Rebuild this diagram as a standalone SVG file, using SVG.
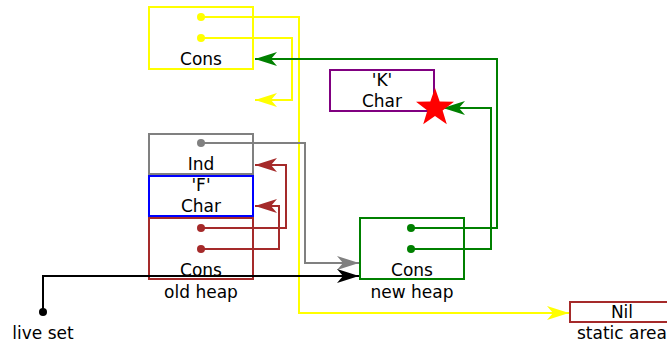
<svg xmlns="http://www.w3.org/2000/svg" width="667" height="345" viewBox="0 0 667 345">
  <style>
    text { font-family: "DejaVu Sans", sans-serif; font-size: 17px; fill: #000; text-anchor: middle; }
    .box { fill: none; stroke-width: 2; }
    .wire { fill: none; stroke-width: 2; }
  </style>
  <defs>
    <marker id="ah-yellow" markerUnits="userSpaceOnUse" markerWidth="24" markerHeight="16" viewBox="-23 -8 24 16" refX="0" refY="0" orient="auto">
      <path d="M0,0 L-22,-7 L-16,0 L-22,7 z" fill="#ffff00"/>
    </marker>
    <marker id="ah-green" markerUnits="userSpaceOnUse" markerWidth="24" markerHeight="16" viewBox="-23 -8 24 16" refX="0" refY="0" orient="auto">
      <path d="M0,0 L-22,-7 L-16,0 L-22,7 z" fill="#008000"/>
    </marker>
    <marker id="ah-red" markerUnits="userSpaceOnUse" markerWidth="24" markerHeight="16" viewBox="-23 -8 24 16" refX="0" refY="0" orient="auto">
      <path d="M0,0 L-22,-7 L-16,0 L-22,7 z" fill="#a52a2a"/>
    </marker>
    <marker id="ah-gray" markerUnits="userSpaceOnUse" markerWidth="24" markerHeight="16" viewBox="-23 -8 24 16" refX="0" refY="0" orient="auto">
      <path d="M0,0 L-22,-7 L-16,0 L-22,7 z" fill="#808080"/>
    </marker>
    <marker id="ah-black" markerUnits="userSpaceOnUse" markerWidth="24" markerHeight="16" viewBox="-23 -8 24 16" refX="0" refY="0" orient="auto">
      <path d="M0,0 L-22,-7 L-16,0 L-22,7 z" fill="#000"/>
    </marker>
  </defs>

  <!-- old heap: Cons cell (yellow) -->
  <g id="cons-yellow">
    <rect class="box" x="149" y="7" width="104" height="62" stroke="#ffff00"/>
    <text x="201" y="65">Cons</text>
  </g>

  <!-- old heap: Ind -->
  <g id="ind">
    <rect class="box" x="149" y="134" width="104" height="40" stroke="#808080"/>
    <text x="201" y="170">Ind</text>
  </g>

  <!-- old heap: 'F' Char -->
  <g id="char-f">
    <rect class="box" x="149" y="176" width="104" height="40" stroke="#0000ff"/>
    <text x="201" y="191">'F'</text>
    <text x="201" y="212">Char</text>
  </g>

  <!-- old heap: Cons cell (red) -->
  <g id="cons-red">
    <rect class="box" x="149" y="218" width="104" height="61" stroke="#a52a2a"/>
    <text x="201" y="276">Cons</text>
    <text x="201" y="298">old heap</text>
  </g>

  <!-- 'K' Char -->
  <g id="char-k">
    <rect class="box" x="330" y="70" width="104" height="41" stroke="#800080"/>
    <text x="382" y="86">'K'</text>
    <text x="382" y="107">Char</text>
  </g>

  <!-- new heap: Cons cell (green) -->
  <g id="cons-green">
    <rect class="box" x="360" y="218" width="104" height="61" stroke="#008000"/>
    <text x="412" y="276">Cons</text>
    <text x="412" y="298">new heap</text>
  </g>

  <!-- static area: Nil -->
  <g id="nil">
    <rect class="box" x="570" y="302" width="104" height="20" stroke="#a52a2a"/>
    <text x="622" y="318">Nil</text>
    <text x="622" y="339">static area</text>
  </g>

  <!-- root -->
  <g id="live-set">
    <circle cx="43" cy="312" r="4" fill="#000"/>
    <text x="43" y="339">live set</text>
  </g>

  <!-- pointers -->
  <g id="connectors">
    <!-- yellow Cons fields -->
    <path class="wire" d="M201,17 H299 V313 H569" stroke="#ffff00" marker-end="url(#ah-yellow)"/>
    <path class="wire" d="M201,38 H292 V100 H255" stroke="#ffff00" marker-end="url(#ah-yellow)"/>
    <circle cx="201" cy="17" r="4" fill="#ffff00"/>
    <circle cx="201" cy="38" r="4" fill="#ffff00"/>

    <!-- Ind forwarding -->
    <path class="wire" d="M201,143 H305 V263 H359" stroke="#808080" marker-end="url(#ah-gray)"/>
    <circle cx="201" cy="143" r="4" fill="#808080"/>

    <!-- red Cons fields -->
    <path class="wire" d="M201,228 H286 V165 H255" stroke="#a52a2a" marker-end="url(#ah-red)"/>
    <path class="wire" d="M201,249 H279 V206 H255" stroke="#a52a2a" marker-end="url(#ah-red)"/>
    <circle cx="201" cy="228" r="4" fill="#a52a2a"/>
    <circle cx="201" cy="249" r="4" fill="#a52a2a"/>

    <!-- green Cons fields -->
    <path class="wire" d="M411,228 H497 V59 H255" stroke="#008000" marker-end="url(#ah-green)"/>
    <path class="wire" d="M411,249 H491 V108 H443" stroke="#008000" marker-end="url(#ah-green)"/>
    <circle cx="411" cy="228" r="4" fill="#008000"/>
    <circle cx="411" cy="249" r="4" fill="#008000"/>

    <!-- live set root -->
    <path class="wire" d="M43,312 V276 H359" stroke="#000" marker-end="url(#ah-black)"/>
  </g>

  <!-- marker star -->
  <polygon id="star" fill="#ff0000" points="435,88 439.7,101.5 454,101.8 442.6,110.5 446.8,124.2 435,116 423.2,124.2 427.4,110.5 416,101.8 430.3,101.5"/>
</svg>
